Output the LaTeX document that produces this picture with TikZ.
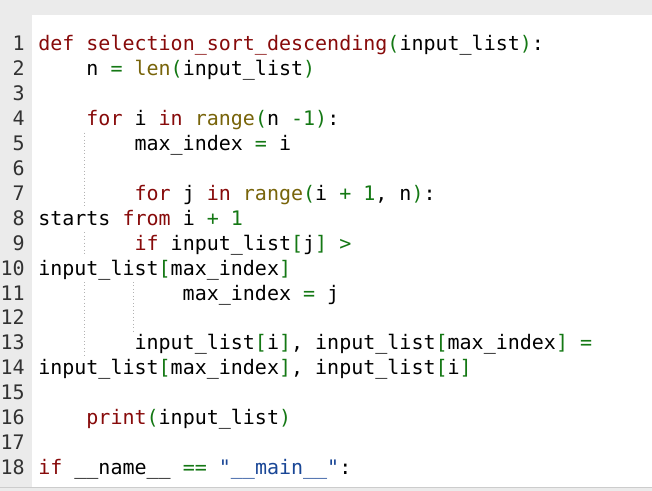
\documentclass[tikz,border=0pt]{standalone}
\usepackage{fontspec}
\setmonofont{DejaVu Sans Mono}
\definecolor{kw}{RGB}{135,10,10}
\definecolor{bi}{RGB}{120,100,10}
\definecolor{gr}{RGB}{20,120,20}
\definecolor{st}{RGB}{25,70,150}
\definecolor{ln}{RGB}{50,50,50}
\definecolor{gut}{RGB}{235,235,235}
\newcommand{\K}[1]{\textcolor{kw}{#1}}
\newcommand{\B}[1]{\textcolor{bi}{#1}}
\newcommand{\G}[1]{\textcolor{gr}{#1}}
\newcommand{\Sq}[1]{\textcolor{st}{#1}}
\newcommand{\ind}{\hspace*{9.03pt}}
\newcommand{\LL}[1]{(51+(#1-1)*24.9)}
\begin{document}
\begin{tikzpicture}[x=0.75pt,y=-0.75pt,
  code/.style={anchor=base west,inner sep=0pt,font=\ttfamily\fontsize{15}{18}\selectfont},
  num/.style={anchor=base east,inner sep=0pt,text=ln,font=\ttfamily\fontsize{15}{18}\selectfont},
  guide/.style={draw=black!30,dotted,line width=0.6pt}]
\useasboundingbox (0,0) rectangle (652,491);
\fill[white] (0,0) rectangle (652,491);
\fill[gut] (0,0) rectangle (652,15);
\fill[gut] (0,0) rectangle (32,491);
\fill[gut] (0,487) rectangle (652,491);
\draw[black!20] (0,487) -- (652,487);
\foreach \k in {1,...,18}{
  \node[num] (n\k) at (25,{51+(\k-1)*24.9}) {\k};
}
\draw[guide] (84,{\LL{5}-18}) -- (84,{\LL{7}+6});
\draw[guide] (84,{\LL{9}-18}) -- (84,{\LL{9}+6});
\draw[guide] (84,{\LL{11}-18}) -- (84,{\LL{13}+6});
\draw[guide] (133,{\LL{11}-18}) -- (133,{\LL{12}+6});
\node[code] (c1) at (38,{\LL{1}}) {\K{def} \K{selection\_sort\_descending}\G{(}input\_list\G{)}:};
\node[code] (c2) at (38,{\LL{2}}) {\ind\ind\ind\ind n \G{=} \B{len}\G{(}input\_list\G{)}};
\node[code] (c4) at (38,{\LL{4}}) {\ind\ind\ind\ind\K{for} i \K{in} \B{range}\G{(}n \G{-1}\G{)}:};
\node[code] (c5) at (38,{\LL{5}}) {\ind\ind\ind\ind\ind\ind\ind\ind max\_index \G{=} i};
\node[code] (c7) at (38,{\LL{7}}) {\ind\ind\ind\ind\ind\ind\ind\ind\K{for} j \K{in} \B{range}\G{(}i \G{+} \G{1}, n\G{)}:};
\node[code] (c8) at (38,{\LL{8}}) {starts \K{from} i \G{+} \G{1}};
\node[code] (c9) at (38,{\LL{9}}) {\ind\ind\ind\ind\ind\ind\ind\ind\K{if} input\_list\G{[}j\G{]} \G{>}};
\node[code] (c10) at (38,{\LL{10}}) {input\_list\G{[}max\_index\G{]}};
\node[code] (c11) at (38,{\LL{11}}) {\ind\ind\ind\ind\ind\ind\ind\ind\ind\ind\ind\ind max\_index \G{=} j};
\node[code] (c13) at (38,{\LL{13}}) {\ind\ind\ind\ind\ind\ind\ind\ind input\_list\G{[}i\G{]}, input\_list\G{[}max\_index\G{]} \G{=}};
\node[code] (c14) at (38,{\LL{14}}) {input\_list\G{[}max\_index\G{]}, input\_list\G{[}i\G{]}};
\node[code] (c16) at (38,{\LL{16}}) {\ind\ind\ind\ind\K{print}\G{(}input\_list\G{)}};
\node[code] (c18) at (38,{\LL{18}}) {\K{if} \_\_name\_\_ \G{==} \Sq{"\_\_main\_\_"}:};
\end{tikzpicture}
\end{document}
